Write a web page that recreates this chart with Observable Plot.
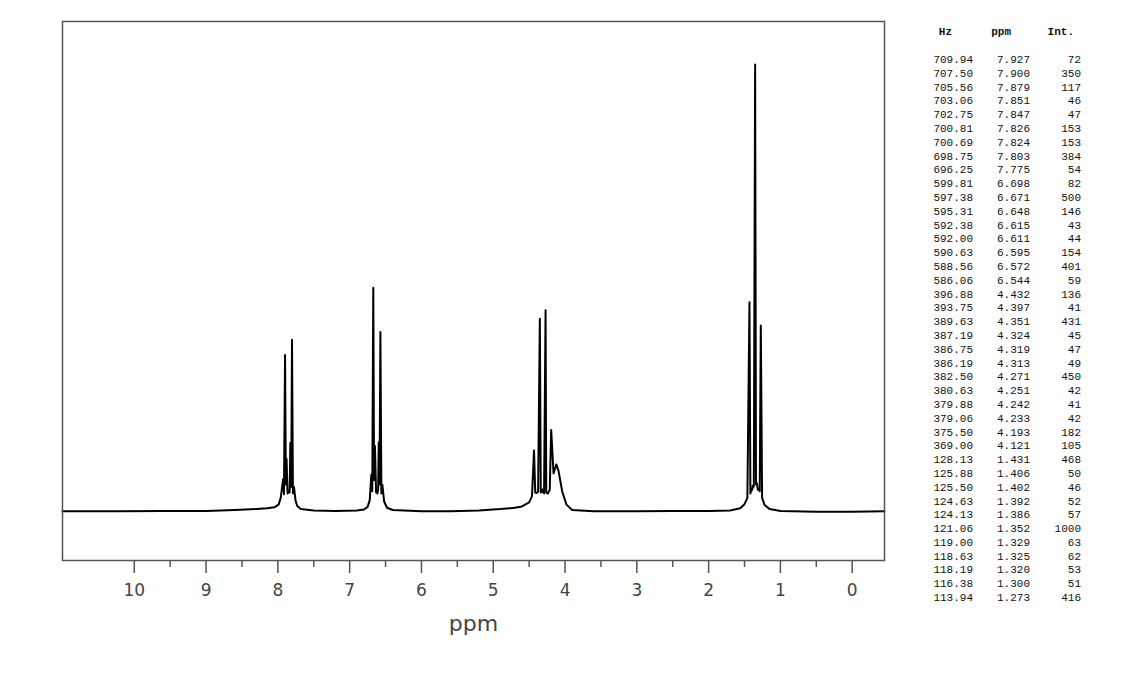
<!DOCTYPE html>
<html><head><meta charset="utf-8">
<script src="https://cdn.jsdelivr.net/npm/d3@7"></script>
<script src="https://cdn.jsdelivr.net/npm/@observablehq/plot@0.6"></script>
<style>
body{margin:0;background:#fff;width:1148px;height:674px;overflow:hidden;position:relative;font-family:"DejaVu Sans",sans-serif}
#chart{position:absolute;left:0;top:0}
#table{position:absolute;left:0;top:0;width:1148px;height:674px;font-family:"Liberation Mono",monospace;font-size:11px;color:#111}
.col{position:absolute;text-align:right;white-space:pre;line-height:13.8px}
.hdr{position:absolute;text-align:right;white-space:pre;font-weight:bold;line-height:13.8px}
</style></head><body>
<div id="chart"></div><div id="table"></div>
<script>
// Peak table
const peakHz = [709.94,707.50,705.56,703.06,702.75,700.81,700.69,698.75,696.25,599.81,597.38,595.31,592.38,592.00,590.63,588.56,586.06,396.88,393.75,389.63,387.19,386.75,386.19,382.50,380.63,379.88,379.06,375.50,369.00,128.13,125.88,125.50,124.63,124.13,121.06,119.00,118.63,118.19,116.38,113.94];
const peakPpm = [7.927,7.900,7.879,7.851,7.847,7.826,7.824,7.803,7.775,6.698,6.671,6.648,6.615,6.611,6.595,6.572,6.544,4.432,4.397,4.351,4.324,4.319,4.313,4.271,4.251,4.242,4.233,4.193,4.121,1.431,1.406,1.402,1.392,1.386,1.352,1.329,1.325,1.320,1.300,1.273];
const peakInt = [72,350,117,46,47,153,153,384,54,82,500,146,43,44,154,401,59,136,41,431,45,47,49,450,42,41,42,182,105,468,50,46,52,57,1000,63,62,53,51,416];

// Baseline / valley points of the trace
const basePpm = [11.0,10.2,9.6,9.0,8.6,8.3,8.15,8.05,7.99,7.96,7.915,7.889,7.865,7.849,7.836,7.825,7.814,7.790,7.755,7.73,7.68,7.5,7.2,6.9,6.8,6.75,6.72,6.685,6.660,6.632,6.613,6.603,6.584,6.558,6.52,6.48,6.4,6.0,5.6,5.2,4.9,4.7,4.6,4.5,4.46,4.415,4.375,4.338,4.321,4.316,4.292,4.262,4.246,4.237,4.213,4.16,4.09,4.04,3.98,3.9,3.6,3.0,2.5,2.0,1.7,1.56,1.5,1.46,1.418,1.404,1.397,1.389,1.370,1.340,1.327,1.322,1.310,1.288,1.255,1.22,1.15,1.0,0.5,0.0,-0.45];
const baseInt = [0,0,1,1,3,5,7,9,15,30,38,60,40,44,42,150,55,40,25,12,5,2,1,2,4,10,25,45,70,42,40,48,60,40,22,8,3,0,0,2,5,8,11,20,34,42,44,42,43,44,40,42,40,40,48,85,90,45,15,3,0,0,1,1,2,7,16,30,40,46,48,50,55,60,60,58,48,45,30,14,5,1,-1,-1,0];

const majorTicks = [0,1,2,3,4,5,6,7,8,9,10];
const minorTicks = [0.5,1.5,2.5,3.5,4.5,5.5,6.5,7.5,8.5,9.5];

const trace = [
  ...peakPpm.map((p,i)=>({ppm:p, int:peakInt[i]})),
  ...basePpm.map((p,i)=>({ppm:p, int:baseInt[i]}))
].sort((a,b)=>b.ppm-a.ppm);

const chart = Plot.plot({
  width: 900, height: 674,
  marginLeft: 62, marginRight: 16, marginTop: 21, marginBottom: 114,
  style: {fontFamily: "DejaVu Sans", fontSize: "17px", color: "#444", background: "transparent"},
  x: {domain: [11, -0.45]},
  y: {domain: [-110, 1096], axis: null},
  marks: [
    Plot.line(trace, {x: "ppm", y: "int", stroke: "#000", strokeWidth: 2}),
    Plot.frame({stroke: "#555", strokeWidth: 1.5}),
    Plot.axisX({ticks: majorTicks, tickSize: 13, tickPadding: 10, stroke: "#555", strokeWidth: 1.5, label: null, tickFormat: d => String(d)}),
    Plot.axisX({ticks: minorTicks, tickSize: 7, stroke: "#555", strokeWidth: 1.5, label: null, tickFormat: () => ""}),
    Plot.text(["ppm"], {frameAnchor: "bottom", dy: 70, fontSize: 22, fill: "#444"})
  ]
});
document.getElementById("chart").appendChild(chart);

// Peak table
const tbl = document.getElementById("table");
function addCol(lines, rightEdge, top, cls) {
  const d = document.createElement("div");
  d.className = cls;
  d.style.right = (1148 - rightEdge) + "px";
  d.style.top = top + "px";
  d.textContent = lines.join("\n");
  tbl.appendChild(d);
}
addCol(["Hz"], 952, 26, "hdr");
addCol(["ppm"], 1011, 26, "hdr");
addCol(["Int."], 1074, 26, "hdr");
addCol(peakHz.map(v => v.toFixed(2)), 973, 54, "col");
addCol(peakPpm.map(v => v.toFixed(3)), 1030, 54, "col");
addCol(peakInt.map(v => String(v)), 1081, 54, "col");
</script></body></html>
